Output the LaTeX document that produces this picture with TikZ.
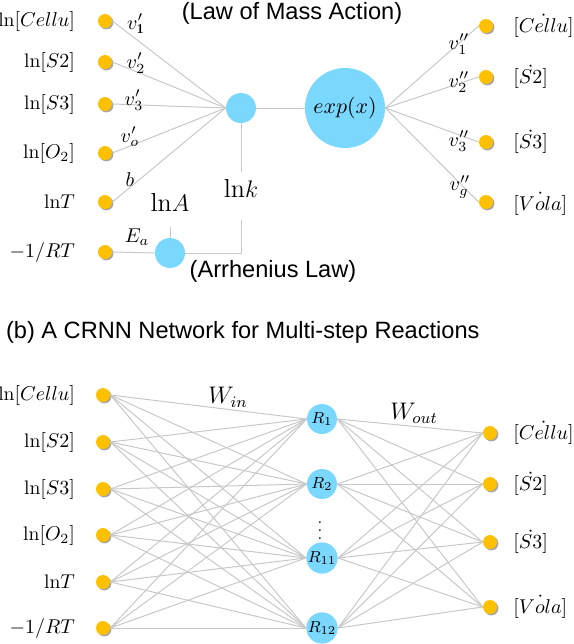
\documentclass[tikz,border=0pt]{standalone}
\usepackage{fontspec}
\setsansfont{Liberation Sans}
\usetikzlibrary{shadows}
\definecolor{ylw}{HTML}{FFC000}
\definecolor{lblue}{HTML}{7AD7FE}
\definecolor{edgec}{HTML}{C8C8C8}
\begin{document}
\begin{tikzpicture}[x=0.5pt,y=-0.5pt,
  dotn/.style={circle,fill=ylw,minimum size=7pt,inner sep=0pt,
    drop shadow={shadow xshift=0.7pt,shadow yshift=-0.7pt,opacity=0.35,fill=black}},
  neuron/.style={circle,fill=lblue,minimum size=15pt,inner sep=0pt},
  bigneuron/.style={circle,fill=lblue,minimum size=40pt,inner sep=0pt},
  conn/.style={draw=edgec,line width=0.5pt},
  lab/.style={font=\fontsize{9.8}{11}\selectfont},
  olab/.style={font=\fontsize{9.8}{11}\selectfont,inner sep=1pt},
  biglab/.style={font=\fontsize{13}{15}\selectfont},
  wlab/.style={font=\fontsize{12}{14}\selectfont},
  rlab/.style={font=\fontsize{8}{9}\selectfont},
  ttl/.style={font=\sffamily\fontsize{11.8}{13}\selectfont}]
\useasboundingbox (0,0) rectangle (574,644);

% ---------- (a) top ----------
\node[ttl] (t1) at (292,13) {(Law of Mass Action)};
\node[ttl] (t2) at (273,271) {(Arrhenius Law)};

\node[dotn] (a1) at (105,21) {};
\node[dotn] (a2) at (105,62) {};
\node[dotn] (a3) at (105,104) {};
\node[dotn] (a4) at (105,153) {};
\node[dotn] (a5) at (105,202) {};
\node[dotn] (a6) at (105,252) {};
\node[lab,anchor=east] (la1) at (82,21) {$\mathrm{ln}[Cellu]$};
\node[lab,anchor=east] (la2) at (82,62) {$\mathrm{ln}[S2]$};
\node[lab,anchor=east] (la3) at (82,104) {$\mathrm{ln}[S3]$};
\node[lab,anchor=east] (la4) at (82,153) {$\mathrm{ln}[O_2]$};
\node[lab,anchor=east] (la5) at (82,202) {$\mathrm{ln}T$};
\node[lab,anchor=east] (la6) at (82,252) {$-1/RT$};

\node[neuron] (k) at (241,108) {};
\node[bigneuron] (ex) at (345,108) {\fontsize{10.5}{12}\selectfont$exp(x)$};
\node[neuron] (arr) at (170,253) {};
\node[biglab] (lnA) at (170,202) {$\mathrm{ln}A$};
\node[biglab] (lnk) at (241,188) {$\mathrm{ln}k$};

\node[dotn] (o1) at (486,26) {};
\node[dotn] (o2) at (486,77) {};
\node[dotn] (o3) at (486,142) {};
\node[dotn] (o4) at (486,202) {};
\node[olab,anchor=west] (lo1) at (511,26) {$[\dot{Cellu}]$};
\node[olab,anchor=west] (lo2) at (511,77) {$[\dot{S2}]$};
\node[olab,anchor=west] (lo3) at (511,142) {$[\dot{S3}]$};
\node[olab,anchor=west] (lo4) at (511,204) {$[\dot{Vola}]$};

\begin{scope}[on background layer/.try]
\foreach \i in {1,...,5} \draw[conn] (a\i.east) -- (k.west);
\draw[conn] (a6.east) -- (arr.west);
\draw[conn] (k.east) -- (ex.west);
\foreach \i in {1,...,4} \draw[conn] (ex.east) -- (o\i.west);
\draw[conn] (k.south) -- (lnk.north);
\draw[conn,shorten <=8pt] (lnk.south) |- (arr.east);
\draw[conn,shorten <=4.5pt] (lnA.south) -- (arr.north);
\end{scope}

\node[lab] (v1) at (136,24) {$v'_{\mathbf 1}$};
\node[lab] (v2) at (136,63) {$v'_2$};
\node[lab] (v3) at (134,100) {$v'_3$};
\node[lab] (vo) at (130,137) {$v'_o$};
\node[lab] (vb) at (130,180) {$b$};
\node[lab] (vE) at (137,237) {$E_a$};
\node[lab] (w1) at (459,44) {$v''_1$};
\node[lab] (w2) at (459,82) {$v''_2$};
\node[lab] (w3) at (459,141) {$v''_3$};
\node[lab] (w4) at (460,187) {$v''_g$};

% ---------- (b) bottom ----------
\node[ttl,anchor=west] (t3) at (-1,332) {(b) A CRNN Network for Multi-step Reactions};

\node[dotn] (b1) at (103,395) {};
\node[dotn] (b2) at (103,442) {};
\node[dotn] (b3) at (103,489) {};
\node[dotn] (b4) at (103,535) {};
\node[dotn] (b5) at (103,582) {};
\node[dotn] (b6) at (103,628) {};
\node[lab,anchor=east] (lb1) at (82,395) {$\mathrm{ln}[Cellu]$};
\node[lab,anchor=east] (lb2) at (82,442) {$\mathrm{ln}[S2]$};
\node[lab,anchor=east] (lb3) at (82,489) {$\mathrm{ln}[S3]$};
\node[lab,anchor=east] (lb4) at (82,535) {$\mathrm{ln}[O_2]$};
\node[lab,anchor=east] (lb5) at (82,582) {$\mathrm{ln}T$};
\node[lab,anchor=east] (lb6) at (82,628) {$-1/RT$};

\node[neuron] (r1) at (322,419) {\fontsize{8}{9}\selectfont$R_1$};
\node[neuron] (r2) at (322,484) {\fontsize{8}{9}\selectfont$R_2$};
\node[neuron] (r3) at (322,558) {\fontsize{8}{9}\selectfont$R_{11}$};
\node[neuron] (r4) at (322,628) {\fontsize{8}{9}\selectfont$R_{12}$};
\node[rlab] (vd) at (320,525) {$\vdots$};

\node[dotn] (c1) at (490,433) {};
\node[dotn] (c2) at (490,484) {};
\node[dotn] (c3) at (490,542) {};
\node[dotn] (c4) at (490,607) {};
\node[olab,anchor=west] (lc1) at (511,433) {$[\dot{Cellu}]$};
\node[olab,anchor=west] (lc2) at (511,484) {$[\dot{S2}]$};
\node[olab,anchor=west] (lc3) at (511,542) {$[\dot{S3}]$};
\node[olab,anchor=west] (lc4) at (511,607) {$[\dot{Vola}]$};

\node[wlab] (win) at (228,397) {$W_{in}$};
\node[wlab] (wout) at (414,413) {$W_{out}$};

\begin{scope}[on background layer/.try]
\foreach \i in {1,...,6} \foreach \j in {1,...,4} \draw[conn] (b\i.east) -- (r\j.west);
\foreach \i in {1,...,4} \foreach \j in {1,...,4} \draw[conn] (r\i.east) -- (c\j.west);
\end{scope}
\end{tikzpicture}
\end{document}
